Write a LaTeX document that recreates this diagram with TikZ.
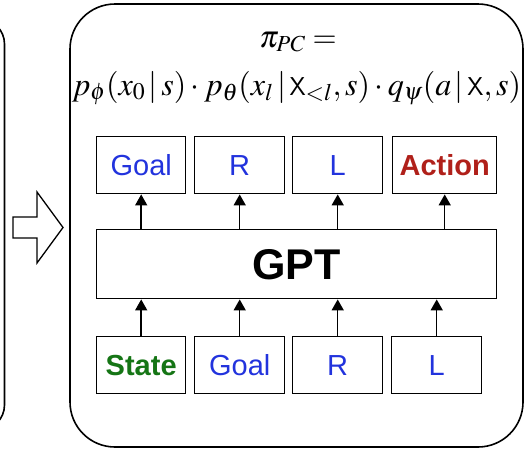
\documentclass[tikz,border=0pt]{standalone}
\usepackage{mathptmx}
\usepackage{fontspec}
\newfontfamily\labfont{Liberation Sans}
\usetikzlibrary{arrows.meta}
\definecolor{tokblue}{HTML}{2233DD}
\definecolor{tokgreen}{HTML}{157515}
\definecolor{tokred}{HTML}{B0201A}
\tikzset{
  tok/.style={draw=black, line width=1.4pt, minimum height=57pt, inner sep=0pt, anchor=north west, font=\labfont\fontsize{29}{32}\selectfont},
  arr/.style={line width=1.5pt, -{Triangle[width=12pt,length=11pt]}},
  frame/.style={draw=black, line width=1.6pt, rounded corners=45pt},
  formula/.style={anchor=base, inner sep=0pt, font=\fontsize{31}{36}\selectfont},
}
\begin{document}
\begin{tikzpicture}[x=1pt,y=-1pt]
\useasboundingbox (0,0) rectangle (526,450);
\clip (0,0) rectangle (526,450);
% left partial box
\draw[line width=1.6pt, rounded corners=25pt] (-60,19) rectangle (4.5,430);
% main frame
\draw[frame] (70,4) rectangle (523,447);
% hollow arrow
\draw[line width=1.3pt, line join=miter] (13,217) -- (37,217) -- (37,192) -- (63,227.5) -- (37,263) -- (37,238) -- (13,238) -- cycle;
% formula
\node[formula] (f1) at (298,47) {$\pi_{PC} =$};
\node[formula] (f2) at (296.5,95) {\resizebox{449pt}{!}{$p_\phi(x_0\,|\,s)\cdot p_\theta(x_l\,|\,\mathsf{X}_{<l},s)\cdot q_\psi(a\,|\,\mathsf{X},s)$}};
% top row
\node[tok, minimum width=89pt, text=tokblue] (g1) at (96,136) {Goal};
\node[tok, minimum width=90pt, text=tokblue] (r1) at (194,136) {R};
\node[tok, minimum width=90pt, text=tokblue] (l1) at (292,136) {L};
\node[tok, minimum width=104pt, text=tokred, font=\labfont\bfseries\fontsize{29}{32}\selectfont] (a1) at (392,136) {Action};
% GPT
\node[draw=black, line width=1.4pt, minimum width=400pt, minimum height=69pt, inner sep=0pt, anchor=north west, font=\labfont\bfseries\fontsize{43}{46}\selectfont] (gpt) at (96,229) {GPT};
% bottom row
\node[tok, minimum width=89pt, text=tokgreen, font=\labfont\bfseries\fontsize{29}{32}\selectfont] (s2) at (96,336) {State};
\node[tok, minimum width=90pt, text=tokblue] (g2) at (194,336) {Goal};
\node[tok, minimum width=90pt, text=tokblue] (r2) at (292,336) {R};
\node[tok, minimum width=90pt, text=tokblue] (l2) at (391,336) {L};
% arrows up
\foreach \n in {g1,r1,l1,a1} \draw[arr] (gpt.north -| \n) -- (\n.south);
\foreach \n in {s2,g2,r2,l2} \draw[arr] (\n.north) -- (gpt.south -| \n);
\end{tikzpicture}
\end{document}
